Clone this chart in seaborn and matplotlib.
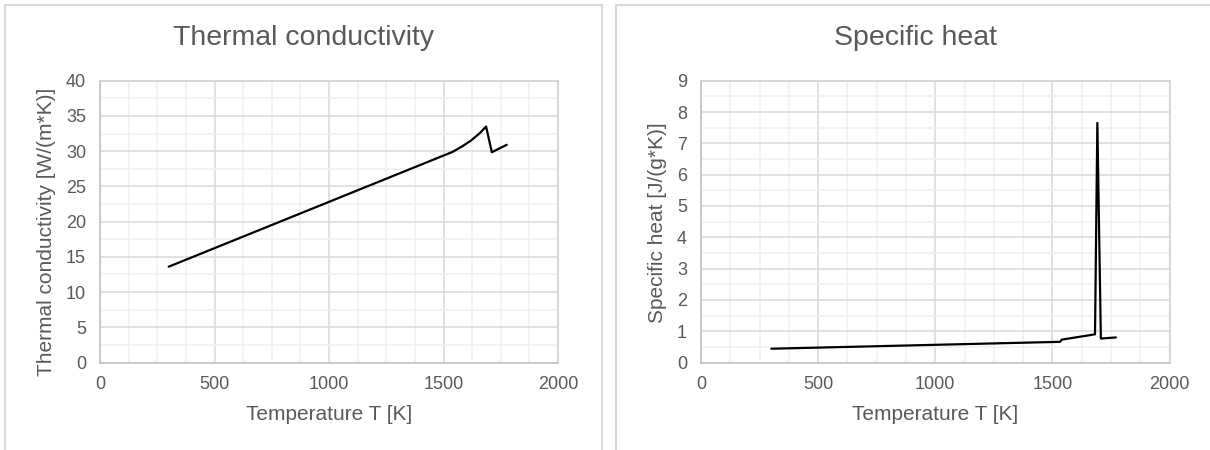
import matplotlib
matplotlib.use("Agg")
import matplotlib.pyplot as plt
import seaborn as sns
import pandas as pd
from matplotlib.patches import Rectangle
from matplotlib.ticker import MultipleLocator

# ---- data ----
temp_k = [300, 1540, 1580, 1620, 1660, 1686, 1711, 1776]
conductivity = [13.6, 29.9, 30.65, 31.5, 32.6, 33.5, 29.85, 30.9]

temp_cp = [300, 1533, 1540, 1682, 1692, 1707, 1771]
specific_heat = [0.44, 0.66, 0.73, 0.90, 7.65, 0.765, 0.80]

titles = ["Thermal conductivity", "Specific heat"]
ylabels = ["Thermal conductivity [W/(m*K)]", "Specific heat [J/(g*K)]"]
xlabel = "Temperature T [K]"

sns.set_style("white")
plt.rcParams["font.family"] = ["Liberation Sans", "DejaVu Sans"]

TXT = "#595959"
fig = plt.figure(figsize=(12.1, 4.5), dpi=100)
W, H = 1210, 450

def fx(px):
    return px / W

def fy(py):
    return 1 - py / H

# panel borders
fig.patches.append(Rectangle((fx(5), fy(460)), fx(602 - 5), (460 - 5) / H,
                             transform=fig.transFigure, fill=False,
                             edgecolor="#d9d9d9", lw=1.5))
fig.patches.append(Rectangle((fx(616), fy(460)), fx(1230 - 616), (460 - 5) / H,
                             transform=fig.transFigure, fill=False,
                             edgecolor="#d9d9d9", lw=1.5))

ax1 = fig.add_axes([fx(100), fy(362.5), fx(558 - 100), (362.5 - 80.7) / H])
ax2 = fig.add_axes([fx(701), fy(362.5), fx(1169.5 - 701), (362.5 - 80.7) / H])

df1 = pd.DataFrame({"T": temp_k, "k": conductivity})
df2 = pd.DataFrame({"T": temp_cp, "cp": specific_heat})
sns.lineplot(data=df1, x="T", y="k", ax=ax1, color="black", lw=1.6, sort=False)
sns.lineplot(data=df2, x="T", y="cp", ax=ax2, color="black", lw=1.6, sort=False)

specs = [(ax1, 40, 5, 2.5), (ax2, 9, 1, 0.5)]
for i, (ax, ymax, ymaj, ymin) in enumerate(specs):
    ax.set_xlim(0, 2000)
    ax.set_ylim(0, ymax)
    ax.xaxis.set_major_locator(MultipleLocator(500))
    ax.xaxis.set_minor_locator(MultipleLocator(125))
    ax.yaxis.set_major_locator(MultipleLocator(ymaj))
    ax.yaxis.set_minor_locator(MultipleLocator(ymin))
    ax.grid(which="minor", color="#f0f0f0", lw=1.1)
    ax.grid(which="major", color="#d9d9d9", lw=1.1)
    ax.set_axisbelow(True)
    for s in ax.spines.values():
        s.set_visible(True)
        s.set_color("#d0d0d0")
        s.set_linewidth(1.1)
    ax.spines["bottom"].set_color("#bfbfbf")
    ax.spines["left"].set_color("#bfbfbf")
    ax.tick_params(which="both", length=0, labelsize=13, colors=TXT)
    ax.tick_params(axis="x", pad=10)
    ax.tick_params(axis="y", pad=10)
    ax.set_xlabel(xlabel, fontsize=15, color=TXT)
    ax.set_ylabel(ylabels[i], fontsize=15, color=TXT)

# label positions
ax1.xaxis.set_label_coords(0.5, -0.152)
ax2.xaxis.set_label_coords(0.5, -0.152)
ax1.yaxis.set_label_coords(-0.096, 0.463)
ax2.yaxis.set_label_coords(-0.0726, 0.497)

fig.text(fx(303.5), fy(38), titles[0], ha="center", va="center", fontsize=20.5, color=TXT)
fig.text(fx(915), fy(38), titles[1], ha="center", va="center", fontsize=20.5, color=TXT)

fig.savefig("out.png", dpi=100)
